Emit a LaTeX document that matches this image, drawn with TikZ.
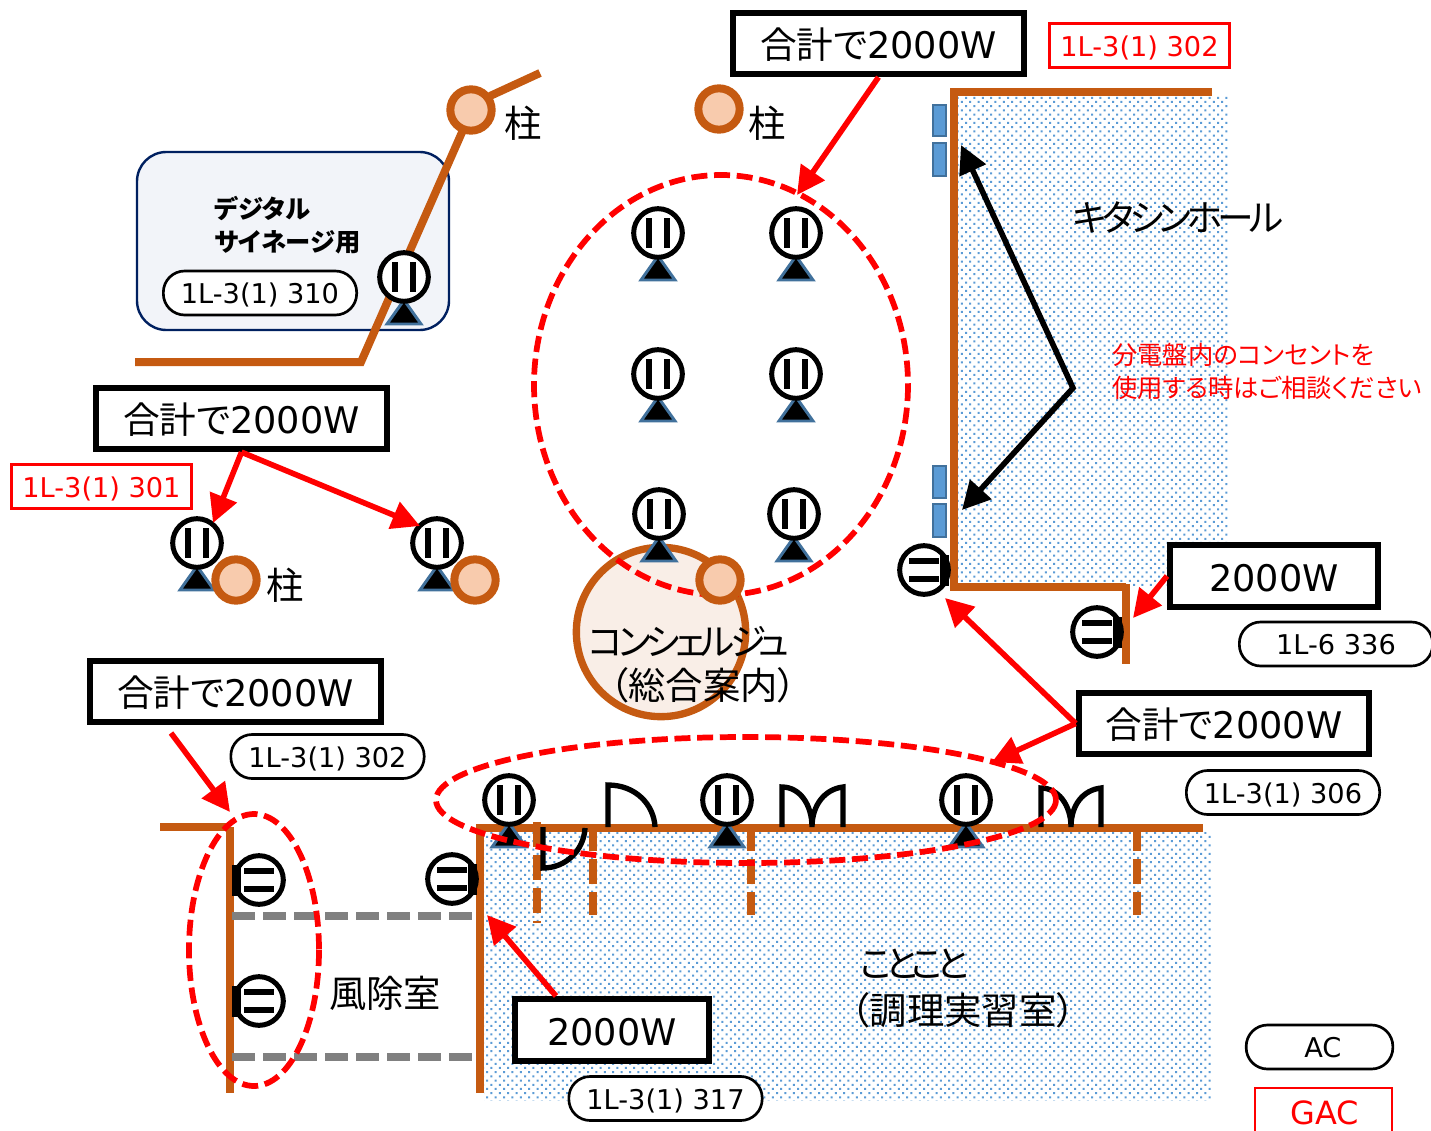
\documentclass[tikz,border=0pt]{standalone}
\usepackage{fontspec}
\setmainfont{DejaVu Sans}
\newfontfamily\jp{Noto Sans CJK JP}[RawFeature=+palt]
\newfontfamily\jptight{Noto Sans CJK JP}[RawFeature=+palt,LetterSpace=-13]
\newfontfamily\jpkana{Noto Sans CJK JP}[RawFeature=+palt,LetterSpace=-18]
\usetikzlibrary{arrows.meta,patterns}
\definecolor{wallcol}{HTML}{C55A11}
\definecolor{colfill}{HTML}{F8CBAD}
\definecolor{dotcol}{HTML}{5B9BD5}
\definecolor{panelcol}{HTML}{41719C}
\definecolor{signfill}{HTML}{F2F4F9}
\definecolor{signline}{HTML}{002060}
\pgfdeclarepatternformonly{halldots}{\pgfqpoint{-1pt}{-1pt}}{\pgfqpoint{6pt}{6pt}}{\pgfqpoint{6.3pt}{6.3pt}}{
\pgfpathrectangle{\pgfqpoint{-.75pt}{-.75pt}}{\pgfqpoint{1.5pt}{1.5pt}}
\pgfpathrectangle{\pgfqpoint{2.4pt}{2.4pt}}{\pgfqpoint{1.5pt}{1.5pt}}
\pgfusepath{fill}}
\tikzset{
wall/.style={draw=wallcol,line width=6pt,line join=miter},
wallgap/.style={draw=wallcol,line width=6pt,dash pattern=on 18.75pt off 6pt},
windline/.style={draw=gray,line width=5.8pt,dash pattern=on 17.25pt off 6pt},
hall/.style={pattern=halldots,pattern color=dotcol},
door/.style={draw=black,line width=4pt},
outlet/.style={circle,draw=black,fill=white,line width=3.75pt,minimum size=36.5pt,inner sep=0pt},
outbar/.style={draw=black,line width=4pt},
outtri/.style={draw=panelcol,fill=black,line width=2.2pt},
plug/.style={fill=black},
pillar/.style={circle,draw=wallcol,fill=colfill,line width=6pt,minimum size=31pt,inner sep=0pt},
panel/.style={draw=panelcol,fill=dotcol,line width=1.2pt},
sumbox/.style={draw=black,fill=white,line width=4.5pt,minimum height=46pt,inner sep=0pt,text height=26pt,text depth=3.4pt,font=\fontsize{27.5}{32}\selectfont},
redbox/.style={draw=red,fill=white,line width=1.6pt,minimum width=135pt,minimum height=33pt,inner sep=0pt,text height=18pt,text depth=1.6pt,font=\fontsize{20.4}{24}\selectfont,text=red},
pillbox/.style={draw=black,fill=white,line width=2pt,rounded corners=16pt,minimum width=145pt,minimum height=33pt,inner sep=0pt,text height=18pt,text depth=1.6pt,font=\fontsize{20.4}{24}\selectfont},
bigtext/.style={font=\jp\fontsize{28}{32}\selectfont,inner sep=0pt},
tighttext/.style={font=\jptight\fontsize{27.5}{32}\selectfont,inner sep=0pt},
redtext/.style={font=\jp\fontsize{19}{24.7}\selectfont,text=red,inner sep=0pt,align=left,anchor=west},
redarrow/.style={draw=red,line width=4.2pt,-{Triangle[length=21pt,width=21pt]}},
blackarrow/.style={draw=black,line width=4.2pt,{Triangle[length=21pt,width=21pt]}-{Triangle[length=21pt,width=21pt]}},
zone/.style={draw=red,line width=4.3pt,dash pattern=on 12pt off 5pt}
}
\newcommand{\outup}[3]{
\draw[outtri] (#2-17,#3+47) -- ++(34,0) -- ++(-17,-24) -- cycle;
\node[outlet] (#1) at (#2,#3) {};
\draw[outbar] (#2-9,#3-15) -- ++(0,30);
\draw[outbar] (#2+9,#3-15) -- ++(0,30);
}
\newcommand{\outright}[3]{
\node[outlet] (#1) at (#2,#3) {};
\fill[plug] (#2+16,#3-15) rectangle ++(9,31);
\draw[outbar] (#2-15,#3-9) -- ++(30,0);
\draw[outbar] (#2-15,#3+9) -- ++(30,0);
}
\newcommand{\outleft}[3]{
\node[outlet] (#1) at (#2,#3) {};
\fill[plug] (#2-27,#3-15) rectangle ++(9,31);
\draw[outbar] (#2-15,#3-9) -- ++(30,0);
\draw[outbar] (#2-15,#3+9) -- ++(30,0);
}
\begin{document}
\begin{tikzpicture}[x=0.75pt,y=-0.75pt]
\useasboundingbox (0,0) rectangle (1431,1131);
% rooms
\fill[hall] (958,96) rectangle (1228,586);
\fill[hall] (484,832) rectangle (1212,1100);
% signage panel
\draw[draw=signline,fill=signfill,line width=1.8pt,rounded corners=22pt] (137,152) rectangle (449,330);
% walls
\draw[wall] (135,362) -- (361,362) -- (463,130);
\draw[wall] (490,96) -- (540,73);
\draw[wall] (1212,92) -- (954,92) -- (954,587) -- (1126,587);
\draw[wall] (1126,584) -- (1126,664);
\draw[wall] (480,1093) -- (480,828) -- (1203,828);
\draw[wall] (160,827) -- (230,827);
\draw[wall] (230,827) -- (230,1093);
\draw[wallgap] (537,822) -- (537,922.5);
\draw[wallgap] (593,826) -- (593,915);
\draw[wallgap] (751,826) -- (751,915);
\draw[wallgap] (1137,826) -- (1137,915);
\draw[windline] (232,916) -- (474,916);
\draw[windline] (232,1057) -- (480,1057);
% panels
\draw[panel] (933,105) rectangle (946,136);
\draw[panel] (933,143) rectangle (946,176);
\draw[panel] (933,466) rectangle (946,498);
\draw[panel] (933,504) rectangle (946,537);
% doors
\draw[door] (608,827) -- (608,785) .. controls (636,785) and (654,805) .. (655,827);
\draw[door] (782,827) -- (782,787) .. controls (800,787) and (812,805) .. (812,827) .. controls (812,805) and (825,789) .. (843,787) -- (843,827);
\draw[door] (1041,827) -- (1041,788) .. controls (1058,788) and (1071,805) .. (1071,827) .. controls (1071,805) and (1083,790) .. (1101,788) -- (1101,827);
\draw[door] (543,827) -- (543,868) .. controls (566,868) and (584,850) .. (585,828);
% concierge
\node[circle,draw=wallcol,fill=wallcol!10,line width=5.5pt,minimum size=127pt,inner sep=0pt] (desk) at (661,632) {};
% outlets
\outup{sign}{404}{277}
\outup{hallA}{658}{233}
\outup{hallB}{796}{233}
\outup{hallC}{658}{374}
\outup{hallD}{796}{374}
\outup{hallE}{659}{514}
\outup{hallF}{794}{514}
\outup{postA}{197}{543}
\outup{postB}{437}{543}
\outup{cookA}{509}{800}
\outup{cookB}{727}{800}
\outup{cookC}{966}{800}
\outright{wallA}{924}{570}
\outright{wallB}{1097}{632}
\outright{wallC}{452}{879}
\outleft{windA}{259}{880}
\outleft{windB}{259}{1001}
% zones
\draw[zone] (721,385) ellipse [x radius=187,y radius=210];
\draw[zone] (254,950) ellipse [x radius=65,y radius=136];
\draw[zone] (746,800) ellipse [x radius=310,y radius=63];
% pillars
\node[pillar] (pillarA) at (471,110) {};
\node[pillar] (pillarB) at (719,109) {};
\node[pillar] (pillarC) at (236,580) {};
\node[pillar] (pillarD) at (475,580) {};
\node[pillar] (pillarE) at (720,580) {};
\node[bigtext] (postlabelA) at (523,123) {柱};
\node[bigtext] (postlabelB) at (767,123) {柱};
\node[bigtext] (postlabelC) at (285,585) {柱};
% labels
\node[font=\jp\bfseries\fontsize{19}{24.7}\selectfont,align=left,anchor=west,inner sep=0pt] (signlabel) at (214,225) {デジタル\\サイネージ用};
\node[tighttext] (halllabel) at (1178,217) {キタシンホール};
\node[redtext] (hallnote) at (1112,371) {分電盤内のコンセントを\\使用する時はご相談ください};
\node[tighttext] (desklabelA) at (689,642) {コンシェルジュ};
\node[bigtext] (desklabelB) at (703,685) {（総合案内）};
\node[bigtext] (windlabel) at (385,993) {風除室};
\node[font=\jpkana\fontsize{27.5}{32}\selectfont,anchor=west,inner sep=0pt] (cooklabelA) at (860,964) {ことこと};
\node[bigtext,anchor=west] (cooklabelB) at (851,1010) {（調理実習室）};
% boxes
\node[sumbox,minimum width=218pt] (sumtop) at (878.5,43.5) {{\jp 合計で}2000W};
\node[sumbox,minimum width=218pt] (sumleft) at (241.5,418.5) {{\jp 合計で}2000W};
\node[sumbox,minimum width=218pt] (sumwind) at (235.5,691.5) {{\jp 合計で}2000W};
\node[sumbox,minimum width=218pt] (sumcook) at (1224,723.5) {{\jp 合計で}2000W};
\node[sumbox,minimum width=156pt] (wattwall) at (1274,576) {2000W};
\node[sumbox,minimum width=146pt] (wattcook) at (612,1030) {2000W};
\node[redbox] (codetop) at (1139.5,45.5) {1L-3(1) 302};
\node[redbox] (codeleft) at (101.5,486.5) {1L-3(1) 301};
\node[redbox,minimum width=103pt,minimum height=34pt,font=\fontsize{24}{28}\selectfont,text height=20pt,text depth=0pt] (keygac) at (1323.5,1111) {\hspace*{2pt}GAC};
\node[pillbox] (pillsign) at (260,293) {1L-3(1) 310};
\node[pillbox] (pillwall) at (1336,644) {1L-6 336};
\node[pillbox] (pillwind) at (327.5,756.5) {1L-3(1) 302};
\node[pillbox] (pillcook) at (1283,792.5) {1L-3(1) 306};
\node[pillbox] (pillroom) at (665.5,1098.5) {1L-3(1) 317};
\node[pillbox,minimum width=110pt] (keyac) at (1319.5,1047) {\hspace*{5pt}AC};
% arrows
\coordinate (toptip) at (797,195);
\coordinate (windstart) at (171,733);
\coordinate (windtip) at (230,812);
\coordinate (walltip) at (945,598);
\coordinate (cooktip) at (992,762);
\coordinate (plugtip) at (1133,618);
\coordinate (roomstart) at (556,996);
\coordinate (roomtip) at (487,915);
\coordinate (postAtip) at (213,523);
\coordinate (postBtip) at (420,526);
\coordinate (panelbend) at (1073,388);
\coordinate (paneltop) at (961,145);
\coordinate (panelbottom) at (962,510);
\draw[redarrow] (sumtop.south) -- (toptip);
\draw[redarrow] (sumleft.south) -- (postAtip);
\draw[redarrow] (sumleft.south) -- (postBtip);
\draw[redarrow] (windstart) -- (windtip);
\draw[redarrow] (sumcook.west) -- (walltip);
\draw[redarrow] (sumcook.west) -- (cooktip);
\draw[redarrow] (wattwall.west) -- (plugtip);
\draw[redarrow] (roomstart) -- (roomtip);
\draw[blackarrow] (paneltop) -- (panelbend) -- (panelbottom);
\end{tikzpicture}
\end{document}
